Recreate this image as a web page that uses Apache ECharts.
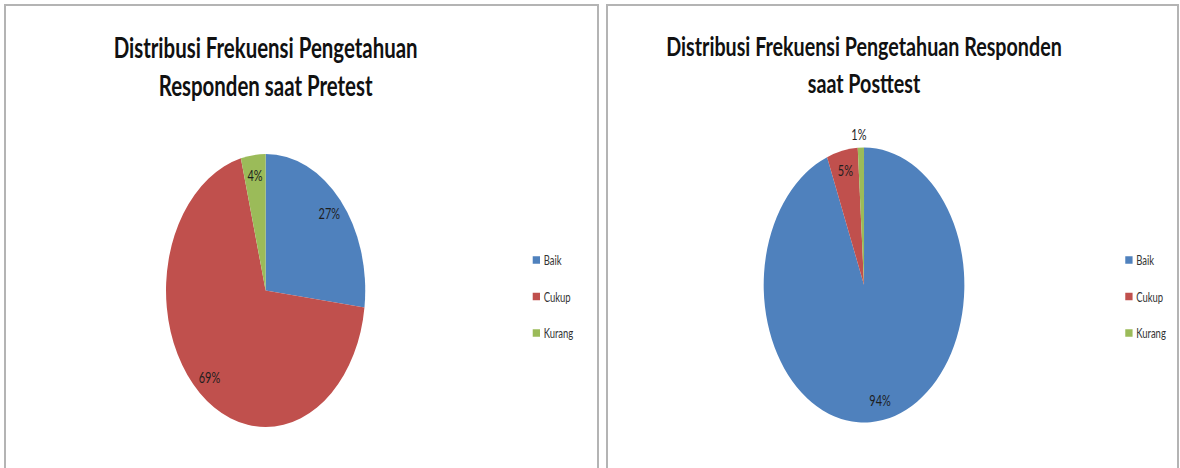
<!DOCTYPE html>
<html><head><meta charset="utf-8">
<script src="https://cdn.jsdelivr.net/npm/echarts@6/dist/echarts.min.js"></script>
<style>
html,body{margin:0;padding:0;background:#fff;}
#wrap{position:relative;width:1180px;height:468px;overflow:hidden;background:#fff;}
.frame{position:absolute;top:4px;height:480px;border:2px solid #b4b4b4;box-sizing:border-box;}
#chart{position:absolute;left:0;top:0;width:1617px;height:468px;transform:scaleX(0.72975);transform-origin:0 0;}
</style></head><body>
<div id="wrap">
<div class="frame" style="left:4px;width:595px"></div>
<div class="frame" style="left:606px;width:573px"></div>
<div id="chart"></div>
</div>
<script>
// ---- data ----
const categories = ['Baik', 'Cukup', 'Kurang'];
const pretestValues = [27, 69, 4];
const posttestValues = [94, 5, 1];
const pretestTitle = 'Distribusi Frekuensi Pengetahuan\nResponden saat Pretest';
const posttestTitle = 'Distribusi Frekuensi Pengetahuan Responden\nsaat Posttest';
const sliceColors = ['#4F81BD', '#C0504D', '#9BBB59'];

// ---- build ----
const chart = echarts.init(document.getElementById('chart'), null, {renderer: 'svg'});
const FONT = 'Lato, "Open Sans", sans-serif';

function pieData(values) {
  return categories.map((c, i) => ({name: c, value: values[i], itemStyle: {color: sliceColors[i]}}));
}
function labelData(values, outsideIdx) {
  return categories.map((c, i) => {
    const d = {name: c, value: values[i], itemStyle: {color: 'rgba(0,0,0,0)'}};
    if (i === outsideIdx) {
      d.label = {position: 'outside', distanceToLabelLine: -8};
      d.labelLine = {show: false, length: 13, length2: 0};
    }
    return d;
  });
}
function visiblePie(center, R, values) {
  return {
    type: 'pie', center: center, radius: [0, R], startAngle: 90, clockwise: true,
    silent: true, animation: false, label: {show: false}, labelLine: {show: false},
    itemStyle: {borderWidth: 0}, data: pieData(values)
  };
}
function labelPie(center, R, values, outsideIdx) {
  return {
    type: 'pie', center: center, radius: [R * 0.66, R], startAngle: 90, clockwise: true,
    silent: true, animation: false, avoidLabelOverlap: false,
    label: {show: true, position: 'inside', formatter: '{c}%', fontFamily: FONT, fontSize: 15, color: '#1e1e1e'},
    labelLine: {show: false},
    data: labelData(values, outsideIdx)
  };
}
function legend(left, top) {
  return {
    orient: 'vertical', left: left, top: top, itemWidth: 10, itemHeight: 7.5, itemGap: 22.5,
    selectedMode: false, icon: 'rect',
    data: categories.map((c, i) => ({name: c, itemStyle: {color: sliceColors[i]}})),
    textStyle: {fontFamily: FONT, fontSize: 13, color: '#333', lineHeight: 14}
  };
}

chart.setOption({
  backgroundColor: 'transparent',
  animation: false,
  title: [
    {text: pretestTitle, left: 364, top: 28, textAlign: 'center', padding: 0,
     textStyle: {fontFamily: FONT, fontWeight: 'bold', fontSize: 28, lineHeight: 38, color: '#111'}},
    {text: posttestTitle, left: 1184, top: 27, textAlign: 'center', padding: 0,
     textStyle: {fontFamily: FONT, fontWeight: 'bold', fontSize: 27, lineHeight: 37, color: '#111'}}
  ],
  legend: [legend(725, 248), legend(1537, 248)],
  series: [
    visiblePie([364, 290.5], 136.5, pretestValues),
    visiblePie([1184, 285], 137.5, posttestValues),
    labelPie([364, 290.5], 136.5, pretestValues, -1),
    labelPie([1184, 285], 137.5, posttestValues, 2)
  ]
});
</script>
</body></html>
